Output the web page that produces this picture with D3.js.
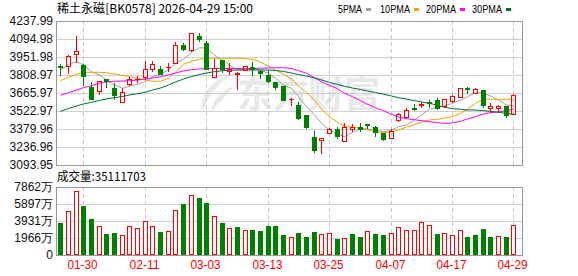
<!DOCTYPE html>
<html>
<head>
<meta charset="utf-8">
<script src="https://cdn.jsdelivr.net/npm/d3@7"></script>
<style>
body { margin: 0; background: #fff; }
svg { display: block; }
</style>
</head>
<body>
<div id="chart"></div>
<script>
// daily bars, 2026-01-27 .. 2026-04-29
var dates = ['01-27','01-28','01-29','01-30','02-02','02-03','02-04','02-05','02-06','02-09',
    '02-10','02-11','02-12','02-13','02-24','02-25','02-26','02-27','03-02','03-03',
    '03-04','03-05','03-06','03-09','03-10','03-11','03-12','03-13','03-16','03-17',
    '03-18','03-19','03-20','03-23','03-24','03-25','03-26','03-27','03-30','03-31',
    '04-01','04-02','04-03','04-07','04-08','04-09','04-10','04-13','04-14','04-15',
    '04-16','04-17','04-20','04-21','04-22','04-23','04-24','04-27','04-28','04-29'];

var open = [3876.6, 3880.5, 3973.5, 3888.5, 3713.7, 3684.3, 3777.2, 3705.7, 3596.9, 3735.1,
    3774.9, 3790.8, 3854.3, 3854.3, 3870.2, 3902.0, 4049.8, 4010.0, 4121.3, 4065.6,
    3790.8, 3928.2, 3843.2, 3817.0, 3851.1, 3875.0, 3843.2, 3809.0, 3753.4, 3721.6,
    3616.0, 3568.3, 3488.8, 3318.8, 3290.2, 3345.8, 3380.0, 3282.3, 3382.4, 3393.5,
    3417.3, 3398.3, 3345.8, 3306.1, 3449.1, 3477.7, 3546.8, 3568.3, 3596.9, 3610.4,
    3562.7, 3604.8, 3636.6, 3708.1, 3668.4, 3689.8, 3549.2, 3549.2, 3562.7, 3496.8];

var high = [3896.4, 3970.3, 4118.9, 3896.4, 3753.4, 3763.7, 3777.2, 3745.5, 3708.1, 3790.8,
    3801.1, 3920.3, 3917.9, 3880.5, 3902.0, 4068.8, 4060.9, 4140.3, 4140.3, 4081.5,
    3936.1, 3928.2, 3906.7, 3832.9, 3882.9, 3912.3, 3848.7, 3848.7, 3753.4, 3721.6,
    3622.3, 3592.1, 3488.8, 3364.1, 3308.5, 3387.9, 3393.5, 3425.3, 3417.3, 3425.3,
    3417.3, 3403.8, 3345.8, 3377.6, 3507.1, 3549.2, 3578.6, 3594.5, 3610.4, 3626.3,
    3616.0, 3650.1, 3703.4, 3713.7, 3705.7, 3689.8, 3584.2, 3573.1, 3562.7, 3658.1];

var low = [3809.0, 3827.3, 3914.7, 3729.6, 3618.3, 3658.1, 3716.1, 3620.7, 3592.1, 3729.6,
    3753.4, 3779.6, 3843.2, 3814.6, 3843.2, 3902.0, 4007.6, 4002.1, 4081.5, 3854.3,
    3790.8, 3830.5, 3814.6, 3700.2, 3851.1, 3809.0, 3787.6, 3753.4, 3700.2, 3608.0,
    3573.1, 3459.4, 3385.6, 3197.3, 3191.7, 3345.8, 3308.5, 3282.3, 3364.1, 3361.7,
    3385.6, 3326.8, 3292.6, 3306.1, 3441.2, 3477.7, 3530.9, 3557.2, 3557.2, 3536.5,
    3552.4, 3596.9, 3636.6, 3668.4, 3668.4, 3552.4, 3517.4, 3525.4, 3473.0, 3496.8];

var close = [3868.6, 3960.0, 3999.7, 3803.5, 3620.7, 3761.4, 3758.5, 3647.7, 3671.6, 3774.9,
    3779.6, 3854.3, 3896.4, 3814.6, 3875.0, 4047.4, 4018.0, 4140.3, 4092.7, 3857.0,
    3861.0, 3856.0, 3859.1, 3822.5, 3882.9, 3859.1, 3827.3, 3763.7, 3711.3, 3608.0,
    3620.7, 3469.8, 3398.3, 3215.5, 3308.5, 3377.6, 3324.4, 3398.3, 3393.5, 3377.6,
    3413.4, 3356.2, 3298.2, 3361.7, 3501.6, 3530.9, 3538.9, 3578.6, 3584.2, 3549.2,
    3616.0, 3642.2, 3703.4, 3700.2, 3697.8, 3570.7, 3560.5, 3563.0, 3491.2, 3647.7];

// volume in 万 (10k)
var vol = [3700, 5050, 7360, 5665, 4160, 3320, 2430, 2540, 2280, 3320,
    3090, 3900, 3320, 2660, 2740, 5170, 5900, 6900, 6590, 6010,
    4475, 3700, 3120, 3240, 2855, 2890, 2740, 3350, 3350, 2310,
    2080, 2540, 2080, 2660, 2390, 2540, 1850, 1965, 2430, 2080,
    2740, 2430, 2310, 2540, 3240, 2890, 2890, 3815, 3470, 2430,
    2540, 2310, 2890, 2080, 2310, 3010, 2080, 2200, 2080, 3511.1703];

var ma5 = [3848.8, 3894.0, 3914.7, 3888.5, 3835.2, 3809.0, 3769.3, 3729.6, 3703.4, 3721.6,
    3735.1, 3755.8, 3795.5, 3814.6, 3848.8, 3902.0, 3933.8, 3989.4, 4025.9, 4021.2,
    3967.9, 3928.2, 3888.5, 3848.8, 3854.3, 3859.1, 3848.8, 3822.5, 3782.8, 3729.6,
    3703.4, 3636.6, 3557.2, 3491.2, 3425.3, 3372.0, 3340.3, 3318.8, 3350.6, 3385.6,
    3380.0, 3372.0, 3358.6, 3372.0, 3398.3, 3411.8, 3451.5, 3491.2, 3536.5, 3552.4,
    3562.7, 3584.2, 3610.4, 3636.6, 3668.4, 3663.6, 3642.2, 3610.4, 3570.7, 3562.7];

var ma10 = [3763.7, 3790.8, 3814.6, 3830.5, 3830.5, 3830.5, 3827.3, 3817.0, 3806.6, 3795.5,
    3782.8, 3769.3, 3759.0, 3759.0, 3782.8, 3832.9, 3894.0, 3917.9, 3933.8, 3941.7,
    3941.7, 3941.7, 3941.7, 3941.7, 3938.5, 3933.8, 3912.3, 3880.5, 3848.8, 3814.6,
    3777.2, 3721.6, 3668.4, 3610.4, 3536.5, 3477.7, 3433.2, 3403.8, 3393.5, 3385.6,
    3372.0, 3358.6, 3350.6, 3358.6, 3372.0, 3395.9, 3414.2, 3435.6, 3451.5, 3457.1,
    3465.0, 3477.7, 3504.7, 3536.5, 3584.2, 3616.0, 3616.0, 3616.0, 3616.0, 3616.0];

var ma20 = [3647.7, 3668.4, 3689.8, 3708.1, 3724.0, 3743.1, 3753.4, 3759.0, 3761.4, 3763.7,
    3769.3, 3777.2, 3785.2, 3795.5, 3809.0, 3824.9, 3840.8, 3851.1, 3856.7, 3860.7,
    3860.7, 3860.7, 3860.7, 3860.7, 3860.7, 3860.7, 3862.3, 3864.6, 3867.0, 3867.0,
    3860.7, 3843.2, 3822.5, 3787.6, 3755.8, 3727.2, 3700.2, 3663.6, 3636.6, 3604.8,
    3576.2, 3549.2, 3525.4, 3496.8, 3475.3, 3461.8, 3453.9, 3445.9, 3438.0, 3430.1,
    3425.3, 3427.7, 3441.2, 3459.4, 3477.7, 3499.2, 3509.5, 3515.1, 3525.4, 3536.5];

var ma30 = [3520.6, 3542.9, 3562.7, 3578.6, 3592.1, 3606.4, 3618.3, 3628.7, 3638.2, 3650.1,
    3660.5, 3672.4, 3689.8, 3705.7, 3729.6, 3753.4, 3777.2, 3797.1, 3813.0, 3824.9,
    3835.2, 3843.2, 3846.4, 3848.8, 3848.8, 3848.8, 3848.8, 3848.8, 3844.8, 3836.8,
    3824.9, 3813.0, 3801.1, 3785.2, 3769.3, 3751.0, 3733.5, 3719.2, 3705.7, 3693.8,
    3681.9, 3670.0, 3656.5, 3642.2, 3628.7, 3618.3, 3604.8, 3594.5, 3584.2, 3568.3,
    3552.4, 3541.3, 3536.5, 3531.0, 3531.0, 3525.4, 3520.6, 3512.7, 3503.2, 3499.2];

var priceTicks = [4237.99, 4094.98, 3951.98, 3808.97, 3665.97, 3522.97, 3379.96, 3236.96, 3093.95];
var volTicks = [7862, 5897, 3931, 1966, 0];
var dateTicks = ['01-30', '02-11', '03-03', '03-13', '03-25', '04-07', '04-17', '04-29'];
var maNames = ['5PMA', '10PMA', '20PMA', '30PMA'];
var maColors = ['#a0a0a0', '#f2a000', '#ff00ff', '#006e34'];
var maSeries = [ma5, ma10, ma20, ma30];

var red = '#ff0000', green = '#008000';
var cjk = '"Noto Sans CJK SC", sans-serif';
var sans = '"Liberation Sans", Arial, sans-serif';

var W = 578, H = 276;
var left = 56, right = 522, pTop = 21, pBot = 165, vTop = 187, vBot = 255;

var svg = d3.select('#chart').append('svg')
    .attr('width', W).attr('height', H);

var x = d3.scalePoint().domain(dates).range([60.3, 513.4]);
var y = d3.scaleLinear().domain([3093.95, 4237.99]).range([pBot, pTop]);
var yv = d3.scaleLinear().domain([0, 7862]).range([vBot, vTop]);

function px(d) { return Math.round(x(d)); }
function r(v) { return Math.round(v); }

// watermark
var wm = svg.append('g').attr('fill', '#e8e8e8');
wm.append('path').attr('d', 'M230,75 C212,80 199,95 202,112 C206,99 215,87 230,75 Z');
wm.append('path').attr('d', 'M234,86 C222,90 212,100 211,112 C218,104 226,96 234,86 Z');
wm.append('text')
    .attr('x', 237).attr('y', 108)
    .attr('font-family', cjk).attr('font-weight', 'bold')
    .attr('font-size', 37)
    .attr('textLength', 143).attr('lengthAdjust', 'spacingAndGlyphs')
    .text('东方财富');

// grids
var grid = svg.append('g').attr('shape-rendering', 'crispEdges');
grid.selectAll('.hp').data(priceTicks.slice(1, -1)).enter().append('line')
    .attr('x1', left).attr('x2', right)
    .attr('y1', function(d) { return r(y(d)) + 0.5; })
    .attr('y2', function(d) { return r(y(d)) + 0.5; })
    .attr('stroke', '#d0d0d0');
grid.selectAll('.hv').data(volTicks.slice(1, -1)).enter().append('line')
    .attr('x1', left).attr('x2', right)
    .attr('y1', function(d) { return r(yv(d)) + 0.5; })
    .attr('y2', function(d) { return r(yv(d)) + 0.5; })
    .attr('stroke', '#d0d0d0');
[[pTop, pBot], [vTop, vBot]].forEach(function(p) {
    grid.selectAll(null).data(dateTicks).enter().append('line')
        .attr('x1', function(d) { return px(d) + 0.5; })
        .attr('x2', function(d) { return px(d) + 0.5; })
        .attr('y1', p[0]).attr('y2', p[1])
        .attr('stroke', '#c8c8c8')
        .attr('stroke-dasharray', '4,3');
});

// frames
svg.append('rect').attr('x', left + 0.5).attr('y', pTop + 0.5)
    .attr('width', right - left).attr('height', pBot - pTop)
    .attr('fill', 'none').attr('stroke', '#999');
svg.append('rect').attr('x', left + 0.5).attr('y', vTop + 0.5)
    .attr('width', right - left).attr('height', vBot - vTop)
    .attr('fill', 'none').attr('stroke', '#999');

// moving averages
maSeries.forEach(function(s, k) {
    var line = d3.line()
        .x(function(d, i) { return px(dates[i]) + 0.5; })
        .y(function(d) { return y(d); });
    svg.append('path').datum(s)
        .attr('d', line)
        .attr('fill', 'none')
        .attr('stroke', maColors[k])
        .attr('stroke-width', 1);
});

// candles
var idx = d3.range(dates.length);
var candles = svg.append('g').attr('shape-rendering', 'crispEdges')
    .selectAll('g').data(idx).enter().append('g');

candles.each(function(i) {
    var g = d3.select(this);
    var up = close[i] >= open[i];
    var col = up ? red : green;
    var cx = px(dates[i]);
    var top = r(y(Math.max(open[i], close[i])));
    var bot = r(y(Math.min(open[i], close[i])));
    var hi = r(y(high[i])), lo = r(y(low[i]));
    if (hi < top) g.append('line').attr('x1', cx + 0.5).attr('x2', cx + 0.5)
        .attr('y1', hi).attr('y2', top).attr('stroke', col);
    if (lo > bot) g.append('line').attr('x1', cx + 0.5).attr('x2', cx + 0.5)
        .attr('y1', bot + 1).attr('y2', lo + 1).attr('stroke', col);
    if (up) {
        if (bot - top < 2) {
            g.append('rect').attr('x', cx - 2).attr('y', top)
                .attr('width', 5).attr('height', Math.max(1, bot - top + 1)).attr('fill', col);
        } else {
            g.append('rect').attr('x', cx - 1.5).attr('y', top + 0.5)
                .attr('width', 4).attr('height', bot - top)
                .attr('fill', 'none').attr('stroke', col);
        }
    } else {
        g.append('rect').attr('x', cx - 2).attr('y', top)
            .attr('width', 5).attr('height', Math.max(1, bot - top + 1)).attr('fill', col);
    }
});

// volume bars, coloured against the previous close
var bars = svg.append('g').attr('shape-rendering', 'crispEdges')
    .selectAll('rect').data(idx).enter().append('rect');
bars.each(function(i) {
    var up = i == 0 ? close[i] >= open[i] : close[i] >= close[i - 1];
    var cx = px(dates[i]);
    var t = r(yv(vol[i]));
    var b = d3.select(this);
    if (up) {
        b.attr('x', cx - 1.5).attr('y', t + 0.5)
            .attr('width', 4).attr('height', vBot - t - 1)
            .attr('fill', '#fff').attr('stroke', red);
    } else {
        b.attr('x', cx - 2).attr('y', t)
            .attr('width', 5).attr('height', vBot - t)
            .attr('fill', green);
    }
});

// price axis labels
svg.selectAll('.pl').data(priceTicks).enter().append('text')
    .attr('x', 53).attr('y', function(d) { return y(d); })
    .attr('dy', '0.36em')
    .attr('text-anchor', 'end')
    .attr('font-family', sans).attr('font-size', 12)
    .attr('fill', '#111')
    .text(function(d) { return d.toFixed(2); });

// volume axis labels
svg.selectAll('.vl').data(volTicks).enter().append('text')
    .attr('x', 53).attr('y', function(d) { return yv(d); })
    .attr('dy', '0.36em')
    .attr('text-anchor', 'end')
    .attr('font-family', sans).attr('font-size', 12)
    .attr('fill', '#111')
    .text(function(d) { return d == 0 ? '0' : d + '万'; });

// date labels
svg.selectAll('.dl').data(dateTicks).enter().append('text')
    .attr('x', function(d) { return px(d) - 0.5; })
    .attr('y', 269)
    .attr('text-anchor', 'middle')
    .attr('font-family', sans).attr('font-size', 12)
    .attr('textLength', 30).attr('lengthAdjust', 'spacingAndGlyphs')
    .attr('fill', red)
    .text(function(d) { return d; });

// title
svg.append('text')
    .attr('x', 57).attr('y', 13)
    .attr('font-family', cjk).attr('font-size', 12)
    .attr('textLength', 196).attr('lengthAdjust', 'spacingAndGlyphs')
    .attr('fill', '#000')
    .text('稀土永磁[BK0578] 2026-04-29 15:00');

// volume caption
svg.append('text')
    .attr('x', 57).attr('y', 181)
    .attr('font-family', cjk).attr('font-size', 12)
    .attr('textLength', 89).attr('lengthAdjust', 'spacingAndGlyphs')
    .attr('fill', '#000')
    .text('成交量:' + Math.round(vol[vol.length - 1] * 10000));

// legend
var legX = [338, 380, 426, 472];
var legW = [24, 30, 30, 30];
maNames.forEach(function(n, k) {
    svg.append('text')
        .attr('x', legX[k]).attr('y', 13)
        .attr('font-family', sans).attr('font-size', 11)
        .attr('textLength', legW[k]).attr('lengthAdjust', 'spacingAndGlyphs')
        .attr('fill', '#000')
        .text(n);
    svg.append('rect')
        .attr('x', legX[k] + legW[k] + 4).attr('y', 8)
        .attr('width', 5).attr('height', 3)
        .attr('fill', maColors[k]);
});
</script>
</body>
</html>
